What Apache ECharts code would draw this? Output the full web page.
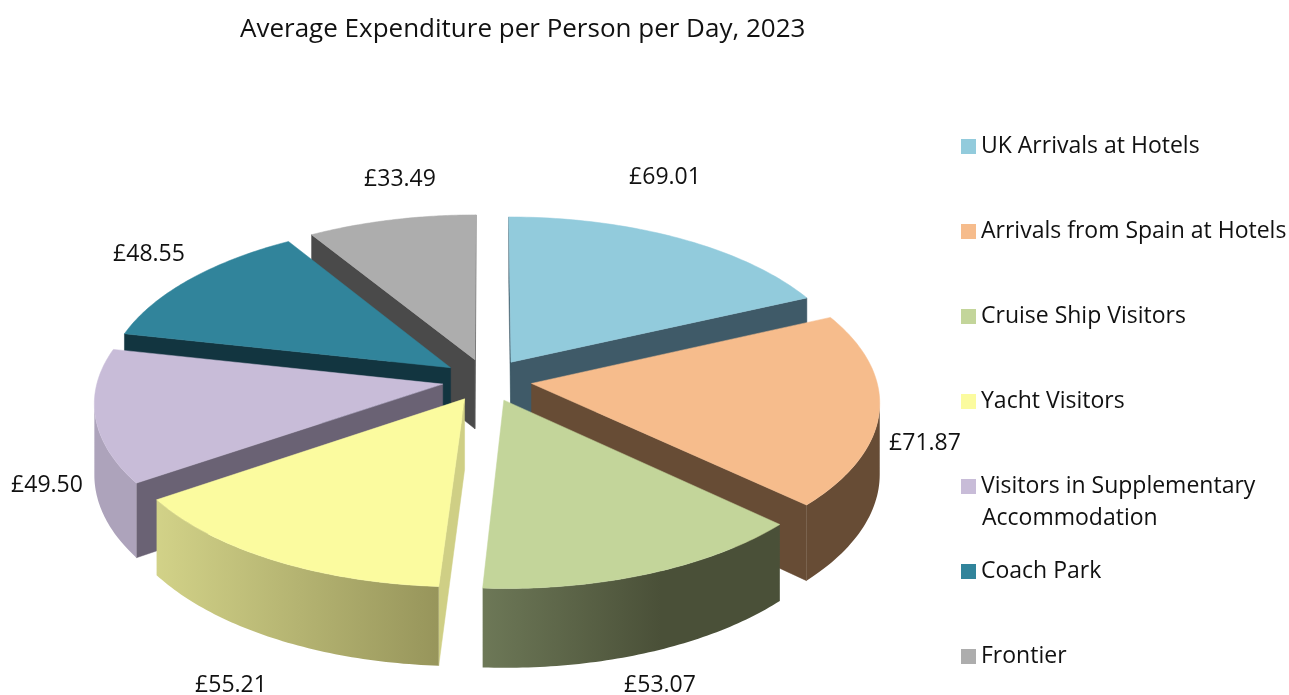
<!DOCTYPE html>
<html>
<head>
<meta charset="utf-8">
<style>
html, body { margin: 0; padding: 0; background: #fff; }
#chart { width: 1289px; height: 695px; }
</style>
<script src="https://cdn.jsdelivr.net/npm/echarts@6/dist/echarts.min.js"></script>
</head>
<body>
<div id="chart"></div>
<script>
const categories = ['UK Arrivals at Hotels', 'Arrivals from Spain at Hotels', 'Cruise Ship Visitors', 'Yacht Visitors', 'Visitors in Supplementary Accommodation', 'Coach Park', 'Frontier'];
const spend = [69.01, 71.87, 53.07, 55.21, 49.5, 48.55, 33.49];

// colours of each slice: top face, cut faces, outer wall left/right
const topColors = ['#92cbdc', '#f6bc8c', '#c3d59a', '#fbfb9f', '#c8bcd8', '#31849b', '#adadad'];
const cutColors = ['#3f5a68', '#674c35', '#4c5239', '#cfcf85', '#6a6274', '#123540', '#4a4a4a'];
const wallLeft = ['#3f5a68', '#674c35', '#6d7857', '#d2d288', '#ada3bb', '#123540', '#4a4a4a'];
const wallRight = ['#3f5a68', '#674c35', '#4a5038', '#97955b', '#ada3bb', '#123540', '#4a4a4a'];
const wallStop = [1, 1, 0.6, 1, 1, 1, 1];
const labelCentres = [[665, 177], [925, 443], [660, 685], [231, 685], [47, 485], [149, 254], [400, 179]];

// 3d pie projection
const cx = 487, cy = 380;
const R = 345, squash = 0.4755, persp = 0.105, depth = 70, explode = 45;

function project(X, Y, Z) {
	const s = 1 / (1 + persp * Y / R);
	return [cx + X * s, cy - Y * squash * s + Z * s];
}

const total = spend.reduce((a, b) => a + b, 0);
let acc = 0;
const slices = spend.map((v, i) => {
	const a0 = acc / total * Math.PI * 2;
	acc += v;
	const a1 = acc / total * Math.PI * 2;
	return { i, a0, a1, mid: (a0 + a1) / 2 };
});

function area(p) {
	let s = 0;
	for (let i = 0; i < p.length; i++) {
		const q = p[(i + 1) % p.length];
		s += p[i][0] * q[1] - q[0] * p[i][1];
	}
	return s;
}

function poly(points, fill) {
	return { type: 'polygon', shape: { points }, style: { fill, stroke: fill, lineWidth: 0.5 }, silent: true };
}

function drawSlice(s, value) {
	const ox = explode * Math.sin(s.mid), oy = explode * Math.cos(s.mid);
	const pt = (a, z) => project(ox + R * Math.sin(a), oy + R * Math.cos(a), z);
	const apex = z => project(ox, oy, z);
	const children = [];

	// cut faces, culled by winding
	const faceA = [apex(0), pt(s.a0, 0), pt(s.a0, depth), apex(depth)];
	const faceB = [apex(0), apex(depth), pt(s.a1, depth), pt(s.a1, 0)];
	[faceA, faceB].forEach(f => {
		if (area(f) < 0) children.push(poly(f, cutColors[s.i]));
	});

	// outer wall, only the run of segments that faces the viewer
	const steps = 60;
	const upper = [], lower = [];
	for (let n = 0; n < steps; n++) {
		const b0 = s.a0 + (s.a1 - s.a0) * n / steps;
		const b1 = s.a0 + (s.a1 - s.a0) * (n + 1) / steps;
		const seg = [pt(b0, 0), pt(b0, depth), pt(b1, depth), pt(b1, 0)];
		if (area(seg) > 0) {
			if (!upper.length) { upper.push(seg[0]); lower.push(seg[1]); }
			upper.push(seg[3]);
			lower.push(seg[2]);
		}
	}
	if (upper.length) {
		const wall = poly(upper.concat(lower.reverse()), wallLeft[s.i]);
		wall.style.fill = {
			type: 'linear', x: 0, y: 0, x2: 1, y2: 0,
			colorStops: [{ offset: 0, color: wallLeft[s.i] }, { offset: wallStop[s.i], color: wallRight[s.i] }, { offset: 1, color: wallRight[s.i] }]
		};
		wall.style.stroke = null;
		children.push(wall);
	}

	// top face
	const top = [apex(0)];
	for (let n = 0; n <= steps; n++) {
		top.push(pt(s.a0 + (s.a1 - s.a0) * n / steps, 0));
	}
	children.push(poly(top, topColors[s.i]));

	children.push({
		type: 'text',
		silent: true,
		style: {
			text: '£' + value.toFixed(2),
			x: labelCentres[s.i][0],
			y: labelCentres[s.i][1],
			align: 'center',
			verticalAlign: 'middle',
			fill: '#111',
			font: '23px "Open Sans"'
		}
	});
	return { type: 'group', children };
}

// back slices go first so the front ones paint over them
const drawOrder = slices.slice().sort((a, b) => Math.cos(b.mid) - Math.cos(a.mid));

const chart = echarts.init(document.getElementById('chart'));
chart.setOption({
	animation: false,
	backgroundColor: '#fff',
	title: {
		text: 'Average Expenditure per Person per Day, 2023',
		left: 235,
		top: 12,
		textStyle: { color: '#111', fontWeight: 'normal', fontSize: 26, fontFamily: 'Open Sans' }
	},
	legend: {
		orient: 'vertical',
		left: 961,
		top: 135,
		padding: 0,
		data: categories,
		selectedMode: false,
		itemWidth: 15,
		itemHeight: 15,
		itemGap: 62,
		icon: 'rect',
		formatter: name => name.replace(' Accommodation', ''),
		textStyle: { color: '#111', fontSize: 23, lineHeight: 20, fontFamily: 'Open Sans' }
	},
	graphic: [{
		type: 'text',
		left: 982,
		top: 507,
		style: { text: 'Accommodation', fill: '#111', font: '23px "Open Sans"' }
	}],
	series: drawOrder.map(s => ({
		type: 'custom',
		name: categories[s.i],
		coordinateSystem: 'none',
		itemStyle: { color: topColors[s.i] },
		data: [spend[s.i]],
		renderItem: () => drawSlice(s, spend[s.i])
	}))
});
</script>
</body>
</html>
